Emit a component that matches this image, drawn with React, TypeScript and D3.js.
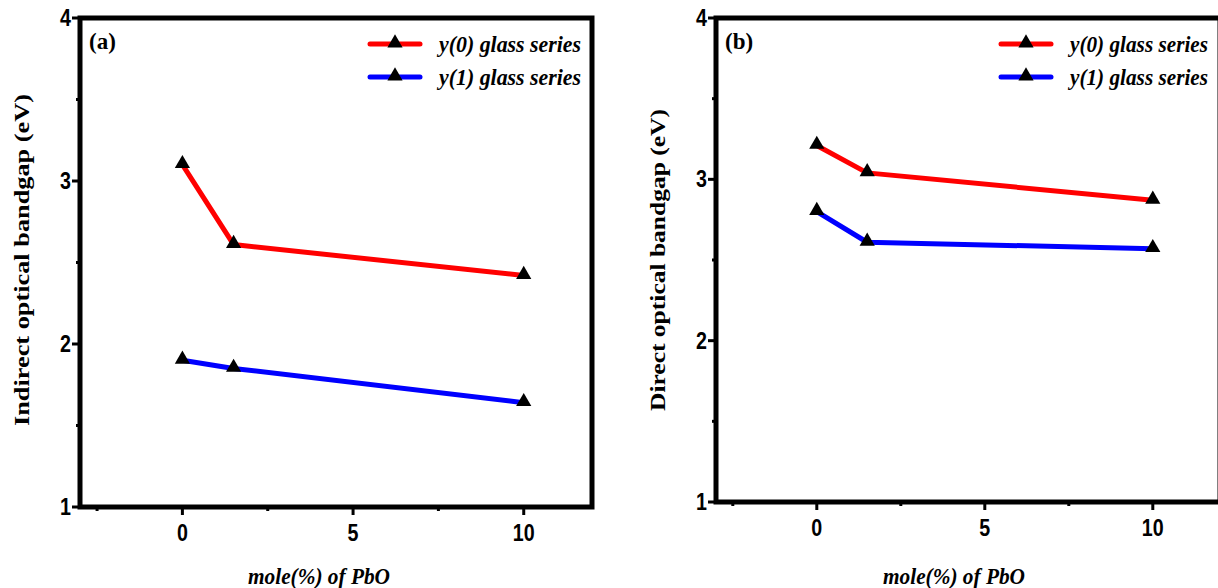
import React from "react";
import * as d3 from "d3";

const xValues = [0, 1.5, 10];
const seriesNames = ["y(0) glass series", "y(1) glass series"];
const seriesColors = ["#ff0000", "#0000ff"];
const indirectY0 = [3.1, 2.61, 2.42];
const indirectY1 = [1.9, 1.85, 1.64];
const directY0 = [3.21, 3.04, 2.87];
const directY1 = [2.8, 2.61, 2.57];
const yTicks = [1, 2, 3, 4];
const yMinor = [1.5, 2.5, 3.5];
const xTicks = [0, 5, 10];
const xMinor = [-2.5, 2.5, 7.5];

const serif = "'Liberation Serif', 'Times New Roman', serif";
const sans = "'Liberation Sans', Arial, sans-serif";

type PanelProps = {
  x0: number; x1: number; y0: number; y1: number;
  label: string; yTitle: string; yTitleLen: number; series: number[][];
  legendX: number; legendLen: number; titleX: number;
};

function Panel({ x0, x1, y0, y1, label, yTitle, yTitleLen, series, legendX, legendLen, titleX }: PanelProps) {
  const x = d3.scaleLinear().domain([-3, 12]).range([x0, x1]);
  const y = d3.scaleLinear().domain([1, 4]).range([y1, y0]);
  const line = d3.line<number>().x((_, i) => x(xValues[i])).y((d) => y(d));
  const tri = d3.symbol().type(d3.symbolTriangle).size(100)();
  return (
    <g>
      {series.map((s, k) => (
        <path key={k} d={line(s) || ""} fill="none" stroke={seriesColors[k]} strokeWidth={5} strokeLinejoin="round" />
      ))}
      {series.map((s, k) =>
        s.map((v, i) => (
          <path key={k + "-" + i} d={tri || ""} transform={`translate(${x(xValues[i])},${y(v) - 1})`} fill="#000" />
        ))
      )}
      <rect x={x0} y={y0} width={x1 - x0} height={y1 - y0} fill="none" stroke="#000" strokeWidth={5} />
      {yTicks.map((t) => (
        <g key={t}>
          <line x1={x0 - 8} x2={x0} y1={y(t)} y2={y(t)} stroke="#000" strokeWidth={3} />
          <text transform={`translate(${x0 - 9},${y(t) + 8}) scale(0.82,1)`} textAnchor="end" fontFamily={sans} fontWeight="bold" fontSize={24}>{t}</text>
        </g>
      ))}
      {yMinor.map((t) => (
        <line key={t} x1={x0 - 4} x2={x0} y1={y(t)} y2={y(t)} stroke="#000" strokeWidth={3} />
      ))}
      {xTicks.map((t) => (
        <g key={t}>
          <line x1={x(t)} x2={x(t)} y1={y1} y2={y1 + 8} stroke="#000" strokeWidth={3} />
          <text transform={`translate(${x(t)},${y1 + 34}) scale(0.82,1)`} textAnchor="middle" fontFamily={sans} fontWeight="bold" fontSize={24}>{t}</text>
        </g>
      ))}
      {xMinor.map((t) => (
        <line key={t} x1={x(t)} x2={x(t)} y1={y1} y2={y1 + 4} stroke="#000" strokeWidth={3} />
      ))}
      <text x={x0 + 9} y={y0 + 31} fontFamily={serif} fontWeight="bold" fontSize={23}>{label}</text>
      {seriesNames.map((n, k) => {
        const ly = y0 + 26 + k * 33;
        return (
          <g key={n}>
            <line x1={legendX} x2={legendX + 50} y1={ly} y2={ly} stroke={seriesColors[k]} strokeWidth={5} strokeLinecap="round" />
            <path d={tri || ""} transform={`translate(${legendX + 25},${ly - 1})`} fill="#000" />
            <text x={legendX + 69} y={ly + 8} fontFamily={serif} fontWeight="bold" fontStyle="italic" fontSize={23}
              textLength={legendLen} lengthAdjust="spacingAndGlyphs">{n}</text>
          </g>
        );
      })}
      <text transform={`translate(${x0 - 51},260) rotate(-90)`} textAnchor="middle" fontFamily={serif} fontWeight="bold" fontSize={22}
        textLength={yTitleLen} lengthAdjust="spacingAndGlyphs">{yTitle}</text>
      <text x={titleX} y={584} textAnchor="middle" fontFamily={serif} fontWeight="bold" fontStyle="italic" fontSize={23}
        textLength={142} lengthAdjust="spacingAndGlyphs">mole(%) of PbO</text>
    </g>
  );
}

export default function App() {
  return (
    <svg width={1218} height={588} style={{ position: "absolute", left: 0, top: 0, background: "#fff" }}>
      <rect x={0} y={0} width={1218} height={588} fill="#fff" />
      <Panel x0={80} x1={592} y0={18} y1={507} label="(a)" yTitle="Indirect optical bandgap (eV)" yTitleLen={332}
        series={[indirectY0, indirectY1]} legendX={370} legendLen={142} titleX={319} />
      <Panel x0={716} x1={1220} y0={18} y1={502} label="(b)" yTitle="Direct optical bandgap (eV)" yTitleLen={302}
        series={[directY0, directY1]} legendX={1001} legendLen={138} titleX={954} />
    </svg>
  );
}
